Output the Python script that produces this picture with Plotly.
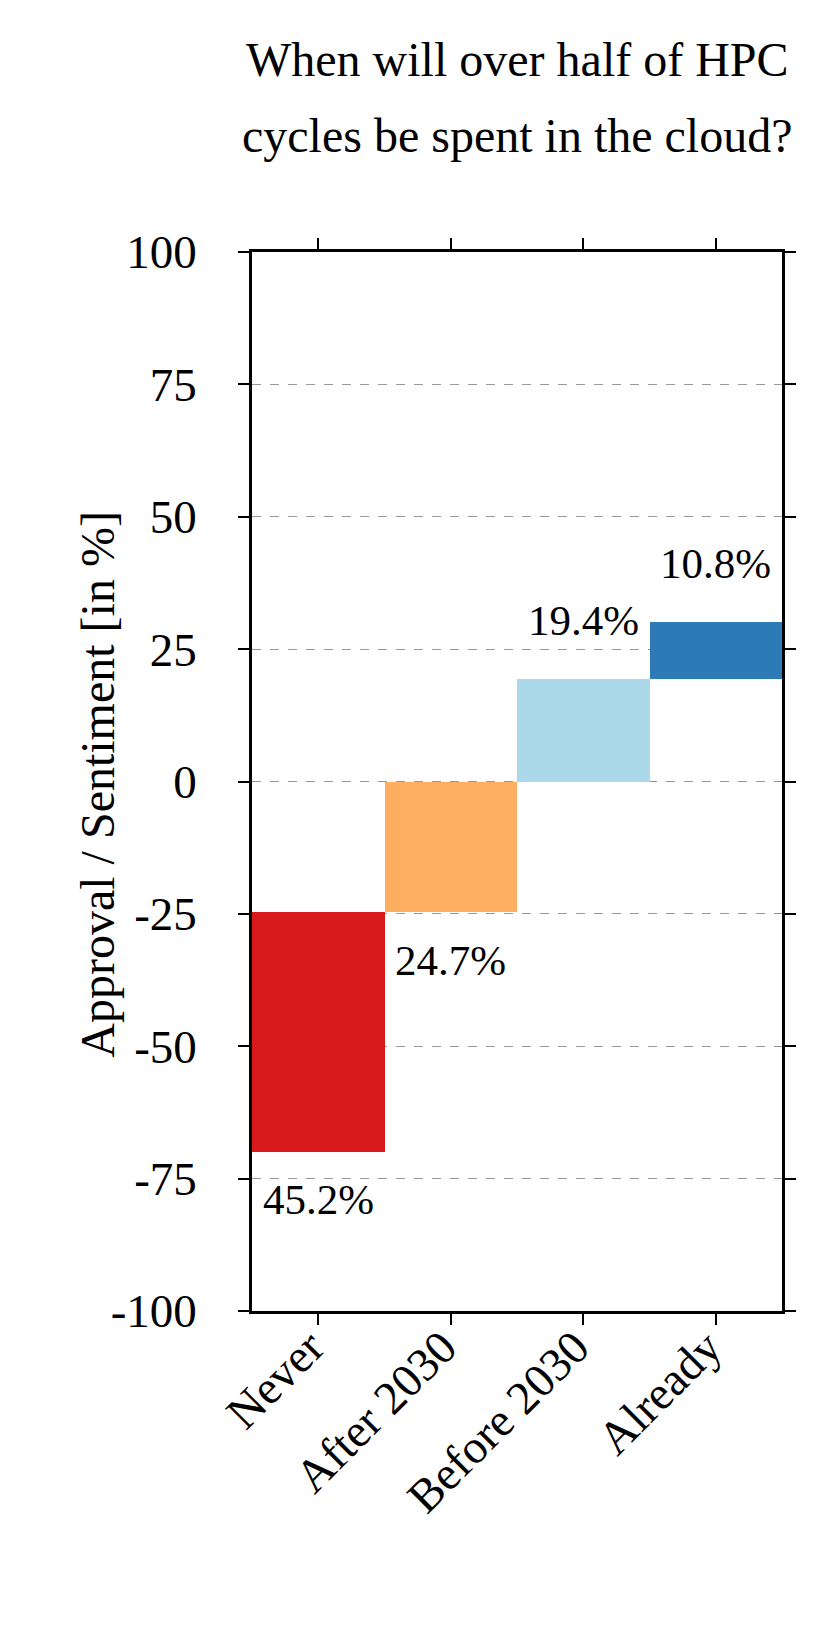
import plotly.graph_objects as go

categories = ["Never", "After 2030", "Before 2030", "Already"]
shares = [45.2, 24.7, 19.4, 10.8]
negative = [True, True, False, False]
colors = ["#d7191c", "#fdae61", "#abd9e9", "#2c7bb6"]
y_ticks = [-100, -75, -50, -25, 0, 25, 50, 75, 100]
title_lines = ["When will over half of HPC", "cycles be spent in the cloud?"]
y_title = "Approval / Sentiment [in %]"

# diverging stacked layout: negative categories stacked downward from 0,
# positive categories stacked upward from 0
neg_idx = [i for i, n in enumerate(negative) if n]
pos_idx = [i for i, n in enumerate(negative) if not n]
base_map = {}
acc = 0.0
for i in reversed(neg_idx):
    acc -= shares[i]
    base_map[i] = acc
acc = 0.0
for i in pos_idx:
    base_map[i] = acc
    acc += shares[i]
bases = [base_map[i] for i in range(len(categories))]

FONT = "Liberation Serif, Times New Roman, serif"

fig = go.Figure()
fig.add_trace(go.Bar(
    x=categories,
    y=shares,
    base=bases,
    width=1.0,
    marker=dict(color=colors, line=dict(width=0)),
    showlegend=False,
))

for i, c in enumerate(categories):
    if negative[i]:
        yv = bases[i]
        shift = -48
    else:
        yv = bases[i] + shares[i]
        shift = 58
    fig.add_annotation(
        x=c, y=yv, text=f"{shares[i]:.1f}%", showarrow=False,
        yshift=shift, xshift=0, yanchor="middle",
        font=dict(family=FONT, size=43, color="black"),
    )

PLOT_LEFT, PLOT_RIGHT = 244, 774
PLOT_TOP, PLOT_BOTTOM = 244, 1303
title_y = [52, 128]
for t, yp in zip(title_lines, title_y):
    fig.add_annotation(
        xref="paper", yref="paper", x=0.5,
        y=1 + (PLOT_TOP - yp) / (PLOT_BOTTOM - PLOT_TOP),
        text=t, showarrow=False, xanchor="center", yanchor="middle",
        font=dict(family=FONT, size=48, color="black"),
    )

# y-axis title
fig.add_annotation(
    xref="paper", yref="paper",
    x=(90 - PLOT_LEFT) / (PLOT_RIGHT - PLOT_LEFT), y=0.497,
    text=y_title, textangle=-90, showarrow=False,
    xanchor="center", yanchor="middle",
    font=dict(family=FONT, size=48, color="black"),
)

axis_common = dict(
    showline=True, linecolor="black", linewidth=2.5, mirror="ticks",
    ticks="outside", ticklen=11, tickwidth=2, tickcolor="black",
    tickfont=dict(family=FONT, size=47, color="black"),
    zeroline=False,
)

fig.update_xaxes(
    **axis_common,
    range=[-0.5, 3.5], tickangle=-45, showgrid=False,
    ticklabelstandoff=-24, ticklabelshift=-8,
)
fig.update_yaxes(
    **axis_common,
    range=[-100, 100], tickvals=y_ticks, ticktext=[str(v) for v in y_ticks],
    showgrid=True, gridcolor="#999999", gridwidth=1, griddash="dash",
    ticklabelstandoff=32,
)

fig.update_layout(
    width=832, height=1630,
    margin=dict(l=PLOT_LEFT, r=832 - PLOT_RIGHT, t=PLOT_TOP, b=1630 - PLOT_BOTTOM, autoexpand=False),
    plot_bgcolor="white", paper_bgcolor="white",
    font=dict(family=FONT, color="black"),
    bargap=0,
)

fig.write_html("out.html")
